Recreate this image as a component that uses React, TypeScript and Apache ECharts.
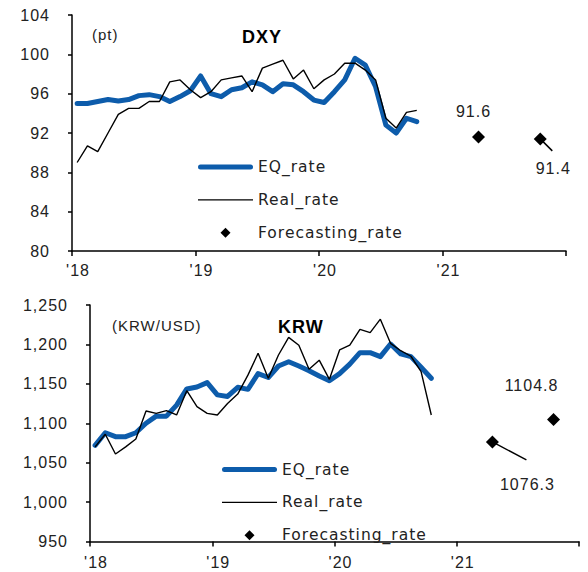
import React, { useEffect, useRef } from "react";
import * as echarts from "echarts";

// month index 0 = Jan 2018; points sit at mid-month
const yearLabels = ["'18", "'19", "'20", "'21", ""];

const dxyEq = [95.0, 95.0, 95.2, 95.4, 95.25, 95.4, 95.8, 95.9, 95.7, 95.2, 95.7, 96.3, 97.8, 96.0, 95.7, 96.4, 96.6, 97.2, 96.9, 96.2, 97.0, 96.9, 96.2, 95.35, 95.1, 96.2, 97.4, 99.6, 98.9, 96.7, 92.8, 92.0, 93.5, 93.15];
const dxyReal = [89.0, 90.7, 90.1, 92.0, 93.9, 94.5, 94.5, 95.2, 95.2, 97.2, 97.4, 96.4, 95.6, 96.2, 97.4, 97.6, 97.8, 96.2, 98.6, 99.0, 99.4, 97.5, 98.4, 96.5, 97.4, 98.0, 99.1, 99.1, 98.4, 97.4, 93.5, 92.5, 94.1, 94.3];
const dxyForecastMonths = [39, 45];
const dxyForecast = [91.6, 91.4];

const krwEq = [1072, 1088, 1083, 1083, 1088, 1100, 1109, 1109, 1123, 1143.5, 1146, 1151.5, 1136, 1134, 1145.6, 1143, 1163, 1158, 1172.6, 1178, 1172.6, 1166.7, 1160, 1154, 1163, 1175, 1189.5, 1189.5, 1184.5, 1200.5, 1188, 1184.5, 1171, 1157];
const krwReal = [1070, 1086, 1061, 1070, 1080, 1115.5, 1112.6, 1116, 1110.5, 1141.3, 1121, 1112.6, 1110.5, 1125, 1137, 1161, 1188.7, 1157, 1186.6, 1209, 1199, 1168.4, 1180, 1155.7, 1193, 1199, 1219, 1215, 1232, 1201.4, 1192, 1185, 1165.4, 1110.5];
const krwForecastMonths = [39, 45];
const krwForecast = [1076.3, 1104.8];

const BLUE = "#0D5CAB";
const FONT = "'Liberation Sans', Arial, sans-serif";
const LEGEND_FONT = "'DejaVu Sans', sans-serif";

const toPts = (vals: number[]) => vals.map((v, i) => [i + 0.5, v]);

const EQ_ICON = "path://M2.5,0 L52.5,0 A2.5,2.5 0 0 1 52.5,5 L2.5,5 A2.5,2.5 0 0 1 2.5,0 Z";
const REAL_ICON = "path://M0,0 L55,0 L55,1.4 L0,1.4 Z";
const DIAMOND_ICON = "path://M5,0 L10,5 L5,10 L0,5 Z";

// label offsets (px) for forecast points
const dxyLabelOffsets = [[-5, -25], [13, 30]];
const krwLabelOffsets = [[35, 43], [-22, -34]];

function App() {
  const ref = useRef<HTMLDivElement>(null);
  useEffect(() => {
    if (!ref.current) return;
    const chart = echarts.init(ref.current, null, { renderer: "svg" });

    const xAxisBase = (gridIndex: number, margin: number) => ({
      type: "value" as const,
      gridIndex,
      min: 0,
      max: 48,
      interval: 12,
      axisLine: { lineStyle: { color: "#000", width: 1.5 } },
      axisTick: { show: true, length: 5, lineStyle: { color: "#000", width: 1.5 } },
      axisLabel: {
        formatter: (v: number) => yearLabels[Math.round(v / 12)] ?? "",
        fontSize: 16,
        fontFamily: FONT,
        color: "#222",
        margin,
        padding: [0, 0, 0, 12],
        showMaxLabel: true,
      },
      splitLine: { show: false },
    });

    const yAxisBase = (gridIndex: number, min: number, max: number, interval: number, fmt: (v: number) => string) => ({
      type: "value" as const,
      gridIndex,
      min,
      max,
      interval,
      axisLine: { show: true, lineStyle: { color: "#000", width: 1.5 } },
      axisTick: { show: true, length: 4, lineStyle: { color: "#000", width: 1.5 } },
      axisLabel: { formatter: fmt, fontSize: 16, fontFamily: FONT, color: "#222", margin: 22 },
      splitLine: { show: false },
    });

    const forecastSeries = (xAxisIndex: number, months: number[], vals: number[], offsets: number[][]) => ({
      name: "Forecasting_rate",
      type: "scatter" as const,
      xAxisIndex,
      yAxisIndex: xAxisIndex,
      symbol: "diamond",
      symbolSize: 13,
      itemStyle: { color: "#000", opacity: 1 },
      data: months.map((m, i) => ({
        value: [m + 0.5, vals[i]],
        label: { offset: offsets[i] },
      })),
      label: {
        show: true,
        position: "inside",
        formatter: (p: any) => String(p.value[1]),
        fontSize: 16,
        fontFamily: FONT,
        color: "#222",
      },
      z: 5,
    });

    const legend = (left: number, top: number) => ({
      orient: "vertical" as const,
      left,
      top,
      itemWidth: 55,
      itemHeight: 10,
      itemGap: 16.9,
      padding: 0,
      symbolKeepAspect: true,
      textStyle: { fontSize: 15.5, fontFamily: LEGEND_FONT, color: "#222" },
      data: [
        { name: "EQ_rate", icon: EQ_ICON, itemStyle: { color: BLUE, opacity: 1 } },
        { name: "Real_rate", icon: REAL_ICON, itemStyle: { color: "#000", opacity: 1 } },
        { name: "Forecasting_rate", icon: DIAMOND_ICON, itemStyle: { color: "#000", opacity: 1 } },
      ],
    });

    chart.setOption({
      animation: false,
      grid: [
        { left: 72, top: 15, width: 494, height: 236 },
        { left: 90, top: 305, width: 489, height: 236.5 },
      ],
      title: [
        { text: "DXY", left: 242, top: 28, padding: 0, textStyle: { fontSize: 18, fontWeight: "bold", fontFamily: FONT, color: "#000" } },
        { text: "(pt)", left: 92, top: 27, padding: 0, textStyle: { fontSize: 15, fontWeight: "normal", fontFamily: FONT, color: "#222" } },
        { text: "KRW", left: 278, top: 318, padding: 0, textStyle: { fontSize: 18, fontWeight: "bold", fontFamily: FONT, color: "#000" } },
        { text: "(KRW/USD)", left: 112, top: 318, padding: 0, textStyle: { fontSize: 15, fontWeight: "normal", fontFamily: FONT, color: "#222" } },
      ],
      legend: [legend(198, 159), legend(222, 461.5)],
      xAxis: [xAxisBase(0, 11), xAxisBase(1, 13)],
      yAxis: [
        yAxisBase(0, 80, 104, 4, (v) => String(v)),
        yAxisBase(1, 950, 1250, 50, (v) => v.toLocaleString("en-US")),
      ],
      series: [
        {
          name: "EQ_rate",
          type: "line",
          xAxisIndex: 0,
          yAxisIndex: 0,
          showSymbol: false,
          symbol: "none",
          data: toPts(dxyEq),
          lineStyle: { color: BLUE, width: 5, cap: "round", join: "round" },
          itemStyle: { color: BLUE },
        },
        {
          name: "Real_rate",
          type: "line",
          xAxisIndex: 0,
          yAxisIndex: 0,
          showSymbol: false,
          symbol: "none",
          data: toPts(dxyReal),
          lineStyle: { color: "#000", width: 1.4 },
          itemStyle: { color: "#000" },
        },
        forecastSeries(0, dxyForecastMonths, dxyForecast, dxyLabelOffsets),
        {
          name: "EQ_rate",
          type: "line",
          xAxisIndex: 1,
          yAxisIndex: 1,
          showSymbol: false,
          symbol: "none",
          data: toPts(krwEq),
          lineStyle: { color: BLUE, width: 5, cap: "round", join: "round" },
          itemStyle: { color: BLUE },
        },
        {
          name: "Real_rate",
          type: "line",
          xAxisIndex: 1,
          yAxisIndex: 1,
          showSymbol: false,
          symbol: "none",
          data: toPts(krwReal),
          lineStyle: { color: "#000", width: 1.4 },
          itemStyle: { color: "#000" },
        },
        forecastSeries(1, krwForecastMonths, krwForecast, krwLabelOffsets),
      ],
    });

    // leader lines from forecast points, anchored through the library's scales
    const p1 = chart.convertToPixel({ gridIndex: 0 }, [dxyForecastMonths[1] + 0.5, dxyForecast[1]]) as number[];
    const p2 = chart.convertToPixel({ gridIndex: 1 }, [krwForecastMonths[0] + 0.5, krwForecast[0]]) as number[];
    chart.setOption({
      graphic: [
        {
          type: "line",
          shape: { x1: p1[0], y1: p1[1], x2: p1[0] + 12, y2: p1[1] + 12 },
          style: { stroke: "#000", lineWidth: 1.5 },
          z: 4,
        },
        {
          type: "line",
          shape: { x1: p2[0], y1: p2[1], x2: p2[0] + 34, y2: p2[1] + 18 },
          style: { stroke: "#000", lineWidth: 1.5 },
          z: 4,
        },
      ],
    });

    return () => chart.dispose();
  }, []);

  return (
    <>
      <style>{`.chartbox text { letter-spacing: 1px; }`}</style>
      <div
        ref={ref}
        className="chartbox"
        style={{ position: "fixed", left: 0, top: 0, width: 588, height: 572, background: "#fff" }}
      />
    </>
  );
}

export default App;
